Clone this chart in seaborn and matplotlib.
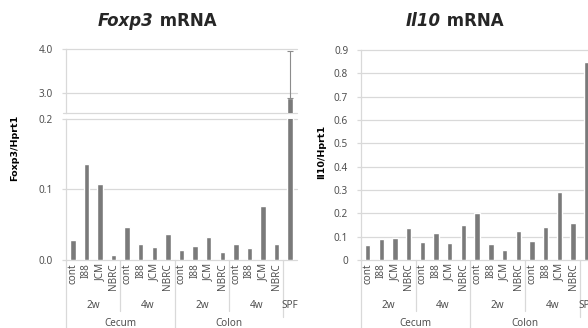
import numpy as np
import pandas as pd
import matplotlib
matplotlib.use("Agg")
import matplotlib.pyplot as plt
import matplotlib.transforms as mtransforms
import seaborn as sns

# ---------------- data ----------------
samples = ["cont", "I88", "JCM", "NBRC"] * 4 + [""]
periods = ["2w", "4w", "2w", "4w", "SPF"]
tissues = ["Cecum", "Colon"]
foxp3 = [0.028, 0.136, 0.107, 0.0075, 0.046, 0.022, 0.019, 0.037,
         0.014, 0.020, 0.032, 0.011, 0.022, 0.017, 0.077, 0.022, 2.90]
foxp3_spf_err = 1.06
il10 = [0.063, 0.091, 0.094, 0.139, 0.079, 0.114, 0.074, 0.150,
        0.203, 0.069, 0.041, 0.126, 0.080, 0.141, 0.293, 0.159, 0.850]
foxp3_low_ticks = [0.0, 0.1, 0.2]
foxp3_high_ticks = [3.0, 4.0]
il10_ticks = [0.0, 0.1, 0.2, 0.3, 0.4, 0.5, 0.6, 0.7, 0.8, 0.9]
il10_ticklabels = ["0", "0.1", "0.2", "0.3", "0.4", "0.5", "0.6", "0.7", "0.8", "0.9"]

keys = [f"k{i}" for i in range(len(samples))]
df = pd.DataFrame({"key": keys, "sample": samples, "foxp3": foxp3, "il10": il10})

# ---------------- style ----------------
sns.set_theme(style="white")
plt.rcParams["font.family"] = ["Noto Sans", "DejaVu Sans"]
BAR = "#7a7a7a"
GRID = "#d9d9d9"
TXT = "#505050"
BOLDFAM = ["DejaVu Sans"]

W, H = 588, 328
fig = plt.figure(figsize=(W / 100, H / 100), dpi=100)


def rect(x0, y0, x1, y1):
    return [x0 / W, 1 - y1 / H, (x1 - x0) / W, (y1 - y0) / H]


axLt = fig.add_axes(rect(66, 49.3, 297, 112.7))
axLb = fig.add_axes(rect(66, 118.6, 297, 260))
axR = fig.add_axes(rect(360.7, 50, 593.6, 260))


def base(ax, col, ylim, ticks, labels, pad):
    sns.barplot(data=df, x="key", y=col, order=keys, ax=ax, color=BAR,
                saturation=1, width=0.4, errorbar=None, zorder=3)
    ax.set_xlim(-0.5, len(keys) - 0.5)
    ax.set_ylim(*ylim)
    ax.set_xticks([])
    ax.set_xlabel("")
    ax.set_ylabel("")
    ax.set_yticks(ticks)
    ax.set_yticklabels(labels)
    for t in ticks:
        ax.axhline(t, color=GRID, lw=0.9, zorder=1, clip_on=False)
    for s in ["top", "right", "bottom"]:
        ax.spines[s].set_visible(False)
    ax.spines["left"].set_color(GRID)
    ax.spines["left"].set_linewidth(0.9)
    ax.tick_params(axis="y", length=3, width=0.9, color=GRID, labelcolor=TXT,
                   labelsize=7.2, pad=pad, left=True)
    ax.patch.set_alpha(0)


base(axLt, "foxp3", (2.56, 4.0), foxp3_high_ticks, ["3.0", "4.0"], 6.5)
base(axLb, "foxp3", (0.0, 0.2), foxp3_low_ticks, ["0.0", "0.1", "0.2"], 6.5)
base(axR, "il10", (0.0, 0.9), il10_ticks, il10_ticklabels, 6.0)

# bottom boundary of upper broken segment
tr = mtransforms.blended_transform_factory(axLt.transAxes, axLt.transAxes)
axLt.plot([-0.013, 1.0], [0, 0], color=GRID, lw=0.9, transform=tr, clip_on=False)

# error bar on SPF
axLt.errorbar(16, foxp3[16], yerr=[[0], [foxp3_spf_err]], fmt="none",
              ecolor="#8c8c8c", elinewidth=0.8, capsize=2.5, capthick=0.8, zorder=4)


# ---------------- hierarchical category axis ----------------
def cat_axis(ax, ax_px_h):
    tr = mtransforms.blended_transform_factory(ax.transData, ax.transAxes)

    def yy(py):
        return (260 - py) / ax_px_h

    for i, lab in enumerate(samples):
        if lab:
            ax.text(i, yy(263), lab, rotation=90, ha="center", va="top",
                    fontsize=7.2, color=TXT, transform=tr)
    for x, lab in zip([1.5, 5.5, 9.5, 13.5, 16], periods):
        ax.text(x, yy(305), lab, ha="center", va="center", fontsize=7.2,
                color=TXT, transform=tr)
    for x, lab in zip([3.5, 11.5], tissues):
        ax.text(x, yy(323.5), lab, ha="center", va="center", fontsize=7.2,
                color=TXT, transform=tr)
    for x, yend in [(-0.5, 330), (3.5, 311), (7.5, 330), (11.5, 311), (15.5, 317)]:
        ax.plot([x, x], [0, yy(yend)], color=GRID, lw=0.9, transform=tr, clip_on=False)


cat_axis(axLb, 260 - 118.6)
cat_axis(axR, 210)

# ---------------- labels ----------------
fig.text(15 / W, 1 - 148 / H, "Foxp3/Hprt1", rotation=90, ha="center", va="center",
         fontsize=6.8, fontweight="bold", color="black", family=BOLDFAM)
fig.text(321.7 / W, 1 - 152 / H, "Il10/Hprt1", rotation=90, ha="center", va="center",
         fontsize=6.8, fontweight="bold", color="black", family=BOLDFAM)


def title(xc, yb, ital, rest):
    fig.canvas.draw()
    r = fig.canvas.get_renderer()
    t1 = fig.text(0, 0, ital, fontsize=12, fontweight="bold", fontstyle="italic",
                  family=BOLDFAM)
    t2 = fig.text(0, 0, rest, fontsize=12, fontweight="bold", family=BOLDFAM)
    w1 = t1.get_window_extent(r).width
    w2 = t2.get_window_extent(r).width
    total = w1 + w2
    x0 = xc - total / 2
    t1.set_position((x0 / W, 1 - yb / H))
    t2.set_position(((x0 + w1) / W, 1 - yb / H))
    t1.set_va("baseline")
    t2.set_va("baseline")


title(157, 26.5, "Foxp3", " mRNA")
title(454.5, 26.5, "Il10", " mRNA")

fig.savefig("out.png", dpi=100)
